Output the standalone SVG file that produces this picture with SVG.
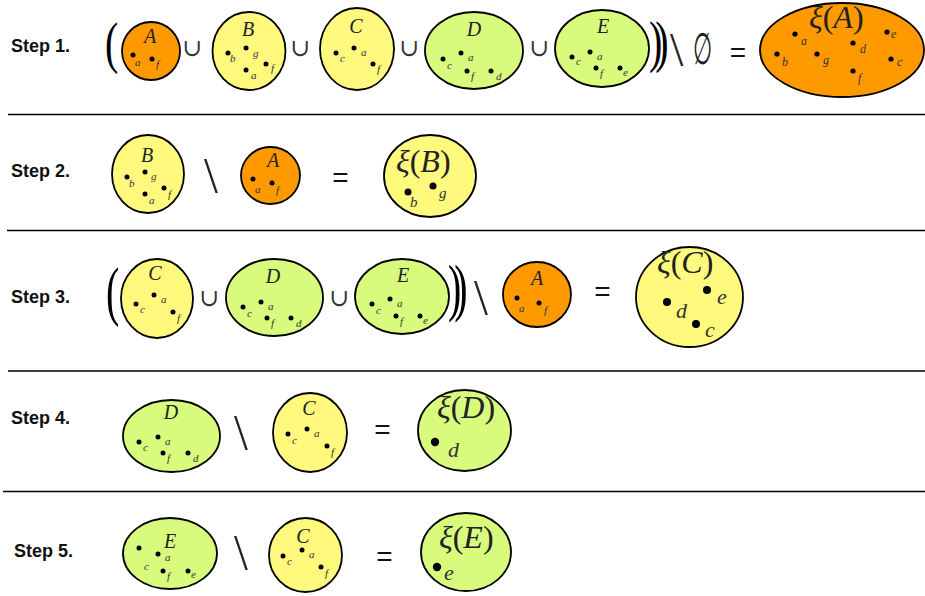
<svg xmlns="http://www.w3.org/2000/svg" width="925" height="596" viewBox="0 0 925 596">
<style>
.bg{fill:#fff}
.sep{stroke:#000;stroke-width:1.5}
.set{stroke:#000;stroke-width:1.8}
.or{fill:#FF9900}
.ye{fill:#FFFA7D}
.gr{fill:#D8FB7E}
.step{font-family:"Liberation Sans",Arial,sans-serif;font-weight:bold;font-size:18px;fill:#111}
.name{font-family:"Liberation Serif","Times New Roman",serif;font-style:italic;font-size:20px;fill:#222;text-anchor:middle}
.el{font-family:"Liberation Serif","Times New Roman",serif;font-style:italic;font-size:11px;fill:#333}
.el1{font-family:"Liberation Serif","Times New Roman",serif;font-style:italic;font-size:12px;fill:#333}
.el2{font-family:"Liberation Serif","Times New Roman",serif;font-style:italic;font-size:15px;fill:#333}
.el3{font-family:"Liberation Serif","Times New Roman",serif;font-style:italic;font-size:22px;fill:#333}
.xi{font-family:"Liberation Serif","Times New Roman",serif;font-size:32px;fill:#222}
.it{font-style:italic}
.op{font-family:"DejaVu Serif","Liberation Serif",serif;font-size:24px;fill:#333;text-anchor:middle}
.par{font-family:"Liberation Serif","Times New Roman",serif;font-size:40px;fill:#000}
.par2{font-family:"Liberation Serif","Times New Roman",serif;font-size:40px;fill:#000;letter-spacing:-7px}
.bs{font-family:"Liberation Serif","Times New Roman",serif;font-size:50px;fill:#222}
.emp{font-family:"DejaVu Serif","Liberation Serif",serif;font-size:44px;fill:#222;text-anchor:middle}
.eq{font-family:"Liberation Sans",Arial,sans-serif;font-size:28px;fill:#111;text-anchor:middle}
.d{fill:#000}
</style>
<rect class="bg" x="0" y="0" width="925" height="596"/>

<g id="separators">
<line class="sep" x1="8" y1="114.5" x2="925" y2="114.5"/>
<line class="sep" x1="7" y1="230.5" x2="925" y2="230.5"/>
<line class="sep" x1="8" y1="371" x2="925" y2="371"/>
<line class="sep" x1="3" y1="491.5" x2="925" y2="491.5"/>
</g>

<g id="labels">
<text class="step" x="11" y="52">Step 1.</text>
<text class="step" x="11" y="177">Step 2.</text>
<text class="step" x="11" y="303">Step 3.</text>
<text class="step" x="11" y="424">Step 4.</text>
<text class="step" x="14" y="557">Step 5.</text>
</g>

<!-- Step 1 -->
<g id="step1-ops">
<text class="par" transform="translate(105 62) scale(1 1.4)">(</text>
<text class="op" x="192.5" y="56">∪</text>
<text class="op" x="300.5" y="56">∪</text>
<text class="op" x="409.5" y="56">∪</text>
<text class="op" x="539.5" y="56">∪</text>
<text class="par2" transform="translate(649 61) scale(1 1.4)">))</text>
<text class="bs" x="670" y="66" style="font-size:48px">\</text>
<text class="emp" transform="translate(702 64) scale(0.5 1)">∅</text>
<text class="eq" x="738" y="62">=</text>
</g>
<g id="s1-A">
<circle class="set or" cx="151" cy="51" r="29"/>
<text class="name" x="150" y="43">A</text>
<circle class="d" cx="133" cy="55" r="2.5"/><text class="el" x="135" y="66">a</text>
<circle class="d" cx="152" cy="59" r="2.5"/><text class="el" x="156" y="68">f</text>
</g>
<g id="s1-B">
<ellipse class="set ye" cx="249" cy="51" rx="36.5" ry="39"/>
<text class="name" x="248" y="36">B</text>
<circle class="d" cx="228" cy="53" r="2.5"/><text class="el" x="230" y="62">b</text>
<circle class="d" cx="246" cy="48" r="2.5"/><text class="el" x="253" y="57">g</text>
<circle class="d" cx="266" cy="64" r="2.5"/><text class="el" x="271" y="72">f</text>
<circle class="d" cx="246" cy="70" r="2.5"/><text class="el" x="251" y="79">a</text>
</g>
<g id="s1-C">
<ellipse class="set ye" cx="357" cy="49" rx="37" ry="41"/>
<text class="name" x="356" y="33">C</text>
<circle class="d" cx="336" cy="53" r="2.5"/><text class="el" x="340" y="62">c</text>
<circle class="d" cx="354" cy="48" r="2.5"/><text class="el" x="361" y="56">a</text>
<circle class="d" cx="373" cy="64" r="2.5"/><text class="el" x="377" y="73">f</text>
</g>
<g id="s1-D">
<ellipse class="set gr" cx="474" cy="50.5" rx="49" ry="38.5"/>
<text class="name" x="474" y="36">D</text>
<circle class="d" cx="443" cy="59" r="2.5"/><text class="el" x="447" y="69">c</text>
<circle class="d" cx="461" cy="53" r="2.5"/><text class="el" x="468" y="61">a</text>
<circle class="d" cx="467" cy="71" r="2.5"/><text class="el" x="471" y="80">f</text>
<circle class="d" cx="491" cy="71" r="2.5"/><text class="el" x="496" y="80">d</text>
</g>
<g id="s1-E">
<ellipse class="set gr" cx="602" cy="48.5" rx="47" ry="38.5"/>
<text class="name" x="603" y="33">E</text>
<circle class="d" cx="572" cy="57" r="2.5"/><text class="el" x="576" y="65">c</text>
<circle class="d" cx="590" cy="52" r="2.5"/><text class="el" x="597" y="60">a</text>
<circle class="d" cx="596" cy="68" r="2.5"/><text class="el" x="600" y="77">f</text>
<circle class="d" cx="620" cy="68" r="2.5"/><text class="el" x="623" y="76">e</text>
</g>
<g id="s1-xiA">
<ellipse class="set or" cx="842" cy="50" rx="82" ry="47"/>
<text class="xi" x="809" y="28"><tspan class="it">ξ</tspan>(<tspan class="it">A</tspan>)</text>
<circle class="d" cx="795" cy="34" r="2.6"/><text class="el1" x="801" y="45">a</text>
<circle class="d" cx="777" cy="54" r="2.6"/><text class="el1" x="782" y="66">b</text>
<circle class="d" cx="817" cy="54" r="2.6"/><text class="el1" x="823" y="64">g</text>
<circle class="d" cx="853" cy="43" r="2.6"/><text class="el1" x="860" y="53">d</text>
<circle class="d" cx="853" cy="71" r="2.6"/><text class="el1" x="858" y="82">f</text>
<circle class="d" cx="887" cy="32" r="2.6"/><text class="el1" x="891" y="38">e</text>
<circle class="d" cx="891" cy="59" r="2.6"/><text class="el1" x="897" y="66">c</text>
</g>

<!-- Step 2 -->
<g id="step2-ops">
<text class="bs" x="204" y="192">\</text>
<text class="eq" x="340.5" y="187">=</text>
</g>
<g id="s2-B">
<ellipse class="set ye" cx="148" cy="174" rx="36" ry="39"/>
<text class="name" x="147" y="162">B</text>
<circle class="d" cx="127" cy="177" r="2.5"/><text class="el" x="129" y="187">b</text>
<circle class="d" cx="145" cy="172" r="2.5"/><text class="el" x="151" y="180">g</text>
<circle class="d" cx="164" cy="188" r="2.5"/><text class="el" x="168" y="198">f</text>
<circle class="d" cx="145" cy="194" r="2.5"/><text class="el" x="149" y="204">a</text>
</g>
<g id="s2-A">
<ellipse class="set or" cx="270.5" cy="175.5" rx="29.5" ry="28.5"/>
<text class="name" x="273" y="167">A</text>
<circle class="d" cx="253" cy="179" r="2.5"/><text class="el" x="255" y="193">a</text>
<circle class="d" cx="272" cy="183" r="2.5"/><text class="el" x="276" y="194">f</text>
</g>
<g id="s2-xiB">
<ellipse class="set ye" cx="430" cy="176" rx="46" ry="41"/>
<text class="xi" x="396" y="172"><tspan class="it">ξ</tspan>(<tspan class="it">B</tspan>)</text>
<circle class="d" cx="408" cy="192" r="3.5"/><text class="el2" x="410" y="207">b</text>
<circle class="d" cx="433" cy="186" r="3.5"/><text class="el2" x="439" y="198">g</text>
</g>

<!-- Step 3 -->
<g id="step3-ops">
<text class="par" transform="translate(106 313) scale(1 1.65)">(</text>
<text class="op" x="209.5" y="306">∪</text>
<text class="op" x="339.5" y="306">∪</text>
<text class="par2" transform="translate(448 309) scale(1 1.57)">))</text>
<text class="bs" x="474" y="314">\</text>
<text class="eq" x="602.5" y="301">=</text>
</g>
<g id="s3-C">
<ellipse class="set ye" cx="157" cy="298.5" rx="36" ry="39.5"/>
<text class="name" x="155" y="280">C</text>
<circle class="d" cx="136" cy="304" r="2.5"/><text class="el" x="140" y="313">c</text>
<circle class="d" cx="154" cy="295" r="2.5"/><text class="el" x="161" y="303">a</text>
<circle class="d" cx="173" cy="312" r="2.5"/><text class="el" x="177" y="322">f</text>
</g>
<g id="s3-D">
<ellipse class="set gr" cx="274.5" cy="297.5" rx="48.5" ry="38.5"/>
<text class="name" x="273" y="283">D</text>
<circle class="d" cx="243" cy="307" r="2.5"/><text class="el" x="247" y="317">c</text>
<circle class="d" cx="261" cy="302" r="2.5"/><text class="el" x="268" y="310">a</text>
<circle class="d" cx="267" cy="318" r="2.5"/><text class="el" x="271" y="327">f</text>
<circle class="d" cx="291" cy="318" r="2.5"/><text class="el" x="296" y="327">d</text>
</g>
<g id="s3-E">
<ellipse class="set gr" cx="402" cy="296.5" rx="47" ry="37.5"/>
<text class="name" x="403" y="282">E</text>
<circle class="d" cx="372" cy="304" r="2.5"/><text class="el" x="376" y="314">c</text>
<circle class="d" cx="390" cy="299" r="2.5"/><text class="el" x="397" y="307">a</text>
<circle class="d" cx="396" cy="316" r="2.5"/><text class="el" x="400" y="325">f</text>
<circle class="d" cx="420" cy="316" r="2.5"/><text class="el" x="423" y="324">e</text>
</g>
<g id="s3-A">
<ellipse class="set or" cx="537" cy="294.5" rx="34" ry="32.5"/>
<text class="name" x="537" y="285">A</text>
<circle class="d" cx="517" cy="298" r="2.5"/><text class="el" x="519" y="312">a</text>
<circle class="d" cx="539" cy="303" r="2.5"/><text class="el" x="544" y="314">f</text>
</g>
<g id="s3-xiC">
<ellipse class="set ye" cx="689.5" cy="297" rx="53.5" ry="50"/>
<text class="xi" x="657" y="273"><tspan class="it">ξ</tspan>(<tspan class="it">C</tspan>)</text>
<circle class="d" cx="667" cy="302" r="4"/><text class="el3" x="676" y="318">d</text>
<circle class="d" cx="707" cy="290" r="4"/><text class="el3" x="717" y="304">e</text>
<circle class="d" cx="696" cy="324" r="4"/><text class="el3" x="705" y="337">c</text>
</g>

<!-- Step 4 -->
<g id="step4-ops">
<text class="bs" x="234" y="449">\</text>
<text class="eq" x="382.5" y="439">=</text>
</g>
<g id="s4-D">
<ellipse class="set gr" cx="171.5" cy="436" rx="48.5" ry="36"/>
<text class="name" x="171" y="419">D</text>
<circle class="d" cx="139" cy="442" r="2.5"/><text class="el" x="143" y="451">c</text>
<circle class="d" cx="158" cy="437" r="2.5"/><text class="el" x="165" y="445">a</text>
<circle class="d" cx="163" cy="453" r="2.5"/><text class="el" x="167" y="462">f</text>
<circle class="d" cx="188" cy="453" r="2.5"/><text class="el" x="193" y="462">d</text>
</g>
<g id="s4-C">
<ellipse class="set ye" cx="310" cy="432.5" rx="37" ry="39.5"/>
<text class="name" x="309" y="415">C</text>
<circle class="d" cx="288" cy="434" r="2.5"/><text class="el" x="292" y="444">c</text>
<circle class="d" cx="307" cy="429" r="2.5"/><text class="el" x="314" y="437">a</text>
<circle class="d" cx="327" cy="446" r="2.5"/><text class="el" x="331" y="456">f</text>
</g>
<g id="s4-xiD">
<ellipse class="set gr" cx="464.5" cy="430.5" rx="46.5" ry="40.5"/>
<text class="xi" x="437" y="418"><tspan class="it">ξ</tspan>(<tspan class="it">D</tspan>)</text>
<circle class="d" cx="435" cy="442" r="4.2"/><text class="el3" x="448" y="457">d</text>
</g>

<!-- Step 5 -->
<g id="step5-ops">
<text class="bs" x="234" y="569">\</text>
<text class="eq" x="384.5" y="566">=</text>
</g>
<g id="s5-E">
<ellipse class="set gr" cx="170" cy="553.5" rx="47" ry="35.5"/>
<text class="name" x="170" y="548">E</text>
<circle class="d" cx="139" cy="548" r="2.5"/><text class="el" x="144" y="570">c</text>
<circle class="d" cx="158" cy="554" r="2.5"/><text class="el" x="165" y="561">a</text>
<circle class="d" cx="163" cy="571" r="2.5"/><text class="el" x="167" y="580">f</text>
<circle class="d" cx="188" cy="571" r="2.5"/><text class="el" x="191" y="578">e</text>
</g>
<g id="s5-C">
<ellipse class="set ye" cx="305.5" cy="555" rx="36.5" ry="37"/>
<text class="name" x="303" y="543">C</text>
<circle class="d" cx="283" cy="556" r="2.5"/><text class="el" x="287" y="565">c</text>
<circle class="d" cx="302" cy="550" r="2.5"/><text class="el" x="309" y="558">a</text>
<circle class="d" cx="321" cy="567" r="2.5"/><text class="el" x="325" y="577">f</text>
</g>
<g id="s5-xiE">
<ellipse class="set gr" cx="466" cy="552" rx="45" ry="39"/>
<text class="xi" x="439" y="548"><tspan class="it">ξ</tspan>(<tspan class="it">E</tspan>)</text>
<circle class="d" cx="437" cy="567" r="4.2"/><text class="el3" x="444" y="580">e</text>
</g>

<g id="connectors"></g>
</svg>
